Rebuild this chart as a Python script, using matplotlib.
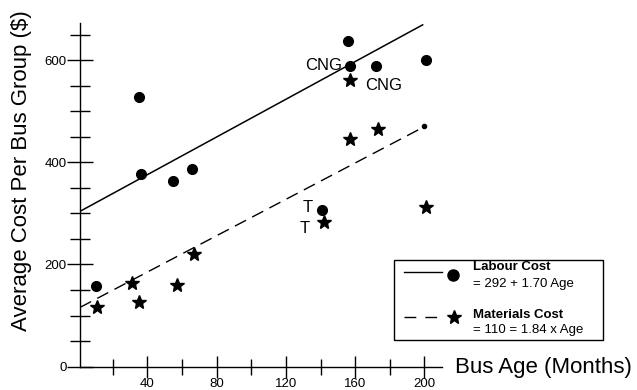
import matplotlib
matplotlib.use("Agg")
import matplotlib.pyplot as plt
from matplotlib.lines import Line2D
from matplotlib.patches import Rectangle
from matplotlib.ticker import MultipleLocator

plt.rcParams['font.family'] = ['Liberation Sans', 'DejaVu Sans']

# Data
labour_age = [10, 35, 36, 55, 66, 141, 156, 157, 172, 201]
labour_cost = [158, 527, 377, 363, 387, 307, 637, 589, 588, 601]
materials_age = [11, 31, 35, 57, 67, 142, 157, 157, 173, 201]
materials_cost = [116, 164, 127, 160, 220, 284, 445, 561, 466, 312]

# fitted lines as drawn
labour_fit_age = [1, 199]
labour_fit_cost = [304, 669]
materials_fit_age = [1, 199]
materials_fit_cost = [116, 468]
end_dot_age = [200]
end_dot_cost = [471]

# point labels: (text, age, cost, dx, dy) offsets in points
point_labels = [("CNG", 156.7, 589, -5, 0, 'right'),
                ("CNG", 157, 561, 11, -4, 'left'),
                ("T", 141, 307, -7, 2, 'right'),
                ("T", 142, 284, -10, -5, 'right')]

W, H = 637, 390
fig = plt.figure(figsize=(W / 100, H / 100), dpi=100)


def px(x):
    return x / W


def py(y):
    return 1 - y / H


ax = fig.add_axes([px(80), py(366.7), px(441.7) - px(80), py(23.3) - py(366.7)])

ax.plot(labour_fit_age, labour_fit_cost, color='black', lw=1.1)
ax.plot(materials_fit_age, materials_fit_cost, color='black', lw=1.0, dashes=(9, 5))
ax.plot(labour_age, labour_cost, 'o', color='black', ms=7, ls='none')
ax.plot(materials_age, materials_cost, '*', color='black', ms=10, ls='none')
ax.plot(end_dot_age, end_dot_cost, 'o', color='black', ms=3, ls='none')

for txt, a, c, dx, dy, ha in point_labels:
    ax.annotate(txt, (a, c), xytext=(dx, dy), textcoords='offset points',
                ha=ha, va='center', fontsize=12)

ax.set_xlim(1, 210)
ax.set_ylim(0, 672)
ax.xaxis.set_major_locator(MultipleLocator(40))
ax.xaxis.set_minor_locator(MultipleLocator(20))
ax.yaxis.set_major_locator(MultipleLocator(200))
ax.yaxis.set_minor_locator(MultipleLocator(50))
ax.set_xticks([40, 80, 120, 160, 200])

for s in ['top', 'right']:
    ax.spines[s].set_visible(False)
for s in ['left', 'bottom']:
    ax.spines[s].set_linewidth(1.0)

ax.tick_params(axis='both', which='both', direction='inout', width=1, labelsize=9.5)
ax.tick_params(axis='y', which='major', length=19, pad=0)
ax.tick_params(axis='y', which='minor', length=14)
ax.tick_params(axis='x', which='major', length=16, pad=0)
ax.tick_params(axis='x', which='minor', length=11)

fig.text(px(22), py(171), "Average Cost Per Bus Group ($)", rotation=90,
         ha='center', va='center', fontsize=16)
fig.text(px(455), py(367), "Bus Age (Months)", ha='left', va='center', fontsize=16)

# legend box drawn by hand
fig.add_artist(Rectangle((px(394.3), py(340)), px(602.7) - px(394.3), py(260) - py(340),
                         transform=fig.transFigure, fill=False, ec='black', lw=1))
fig.add_artist(Line2D([px(404), px(442)], [py(271.7), py(271.7)], transform=fig.transFigure,
                      color='black', lw=1))
fig.add_artist(Line2D([px(453.3)], [py(275)], transform=fig.transFigure, marker='o',
                      color='black', ms=8))
fig.add_artist(Line2D([px(404), px(437)], [py(316.7), py(316.7)], transform=fig.transFigure,
                      color='black', lw=1, dashes=(8.5, 6.5)))
fig.add_artist(Line2D([px(454)], [py(316.7)], transform=fig.transFigure, marker='*',
                      color='black', ms=10))
fig.text(px(472.7), py(266.7), "Labour Cost", fontweight='bold', fontsize=9.5, va='center')
fig.text(px(472.7), py(284), "= 292 + 1.70 Age", fontsize=9.5, va='center')
fig.text(px(472.7), py(314.5), "Materials Cost", fontweight='bold', fontsize=9.5, va='center')
fig.text(px(472.7), py(329.5), "= 110 = 1.84 x Age", fontsize=9.5, va='center')

fig.savefig("out.png", dpi=100)
